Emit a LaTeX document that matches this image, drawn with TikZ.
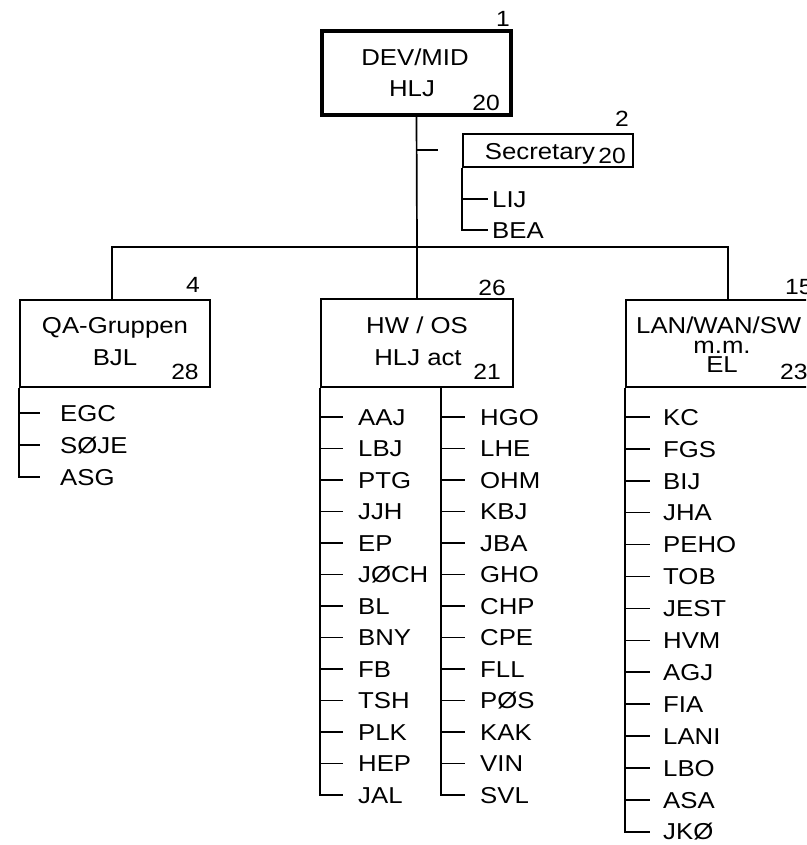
\documentclass[tikz,border=0pt]{standalone}
\usepackage{fontspec}
\setmainfont{Liberation Sans}[FakeStretch=1.12]
\begin{document}
\begin{tikzpicture}[x=1pt,y=-1pt,
  lbl/.style={font=\fontsize{23}{23}\selectfont, inner sep=0pt, text height=16.5pt, text depth=0pt},
  num/.style={font=\fontsize{22}{22}\selectfont, inner sep=0pt, text height=15.8pt, text depth=0pt},
  box/.style={draw, line width=1.8pt, inner sep=0pt},
  conn/.style={line width=1.7pt},
  tick/.style={line width=1.5pt}]
\useasboundingbox (0,0) rectangle (806,845);
\clip (0,0) rectangle (806,845);
% boxes
\node[box, line width=4pt, minimum width=189pt, minimum height=84pt] (top) at (416.5,73) {};
\node[box, minimum width=170pt, minimum height=33pt] (sec) at (548,150.5) {};
\node[box, minimum width=190pt, minimum height=87pt] (qa) at (115,343.5) {};
\node[box, minimum width=192pt, minimum height=88pt] (hw) at (417,343) {};
\node[box, minimum width=250pt, minimum height=87pt] (lan) at (751,343.5) {};
% box texts
\node[num] (n1) at (503,19) {1};
\node[lbl] (t1) at (415,57) {DEV/MID};
\node[lbl] (t2) at (412,88) {HLJ};
\node[num] (n20a) at (486,103) {20};
\node[num] (n2) at (622,119) {2};
\node[lbl] (ts) at (540,151) {Secretary};
\node[num] (n20b) at (612,156) {20};
\node[num] (n4) at (193,285) {4};
\node[lbl] (tq1) at (115,325) {QA-Gruppen};
\node[lbl] (tq2) at (115,357) {BJL};
\node[num] (n28) at (185,372) {28};
\node[num] (n26) at (492,288) {26};
\node[lbl] (th1) at (417,325) {HW / OS};
\node[lbl] (th2) at (418,357) {HLJ act};
\node[num] (n21) at (487,372) {21};
\node[num, anchor=west] (n15) at (785,287) {15};
\node[lbl, anchor=west] (tl1) at (636,325) {LAN/WAN/SW};
\node[lbl, anchor=base, text height=11pt] (tl2) at (722,353) {m.m.};
\node[lbl, text height=15pt] (tl3) at (722,365) {EL};
\node[num, anchor=west] (n23) at (780,372) {23};
% main connectors
\coordinate (hub) at (417,247);
\coordinate (qain) at (112,300);
\coordinate (lanin) at (728,300);
\coordinate (stick) at (417,150);
\draw[conn] (top.south) -- (hub);
\draw[conn] (qain) |- (hub) -| (lanin);
\draw[conn] (hub) -- (hw.north);
\draw[conn] (stick) -- ++(21,0);
% secretary members
\node[lbl, anchor=west] (lij) at (492,199) {LIJ};
\node[lbl, anchor=west] (bea) at (492,230) {BEA};
\draw[tick] (sec.south west |- lij.west) -- ([xshift=-4pt]lij.west);
\draw[conn] (sec.south west) |- ([xshift=-4pt]bea.west);
% QA members
\foreach \t [count=\i from 0] in {EGC,SØJE,ASG}
  \node[lbl, anchor=west] (qa\i) at (60,413+32*\i) {\t};
\foreach \i in {0,1}
  \draw[tick] (qa.south west |- qa\i.west) -- ([xshift=-20pt]qa\i.west);
\draw[conn] (qa.south west) |- ([xshift=-20pt]qa2.west);
% HW members left
\foreach \t [count=\i from 0] in {AAJ,LBJ,PTG,JJH,EP,JØCH,BL,BNY,FB,TSH,PLK,HEP,JAL}
  \node[lbl, anchor=west] (hl\i) at (358,417+31.5*\i) {\t};
\foreach \i in {0,...,11}
  \draw[tick] (hw.south west |- hl\i.west) -- ([xshift=-15pt]hl\i.west);
\draw[conn] (hw.south west) |- ([xshift=-15pt]hl12.west);
% HW members right
\coordinate (hwr) at ([xshift=121pt]hw.south west);
\foreach \t [count=\i from 0] in {HGO,LHE,OHM,KBJ,JBA,GHO,CHP,CPE,FLL,PØS,KAK,VIN,SVL}
  \node[lbl, anchor=west] (hr\i) at (480,417+31.5*\i) {\t};
\foreach \i in {0,...,11}
  \draw[tick] (hwr |- hr\i.west) -- ([xshift=-15pt]hr\i.west);
\draw[conn] (hwr) |- ([xshift=-15pt]hr12.west);
% LAN members
\foreach \t [count=\i from 0] in {KC,FGS,BIJ,JHA,PEHO,TOB,JEST,HVM,AGJ,FIA,LANI,LBO,ASA,JKØ}
  \node[lbl, anchor=west] (ln\i) at (663,417+31.9*\i) {\t};
\foreach \i in {0,...,12}
  \draw[tick] (lan.south west |- ln\i.west) -- ([xshift=-13pt]ln\i.west);
\draw[conn] (lan.south west) |- ([xshift=-13pt]ln13.west);
\end{tikzpicture}
\end{document}
